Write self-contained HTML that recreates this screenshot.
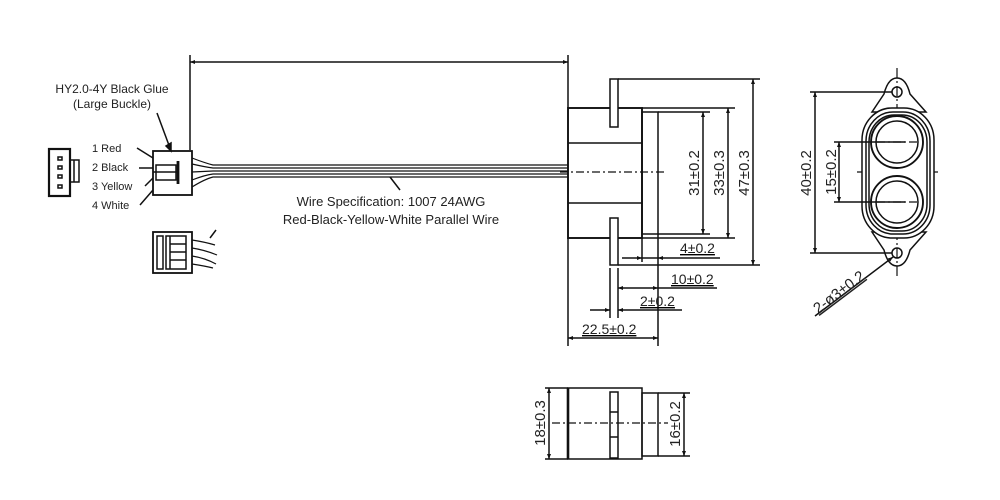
<!DOCTYPE html>
<html><head><style>
html,body{margin:0;padding:0;background:#fff;}
svg{display:block;}
text{font-family:"Liberation Sans",sans-serif;fill:#222;}
</style></head><body>
<svg width="1000" height="500" viewBox="0 0 1000 500" xmlns="http://www.w3.org/2000/svg">
<defs>
<marker id="a" viewBox="0 0 10 10" refX="10" refY="5" markerWidth="8" markerHeight="5" orient="auto-start-reverse" markerUnits="userSpaceOnUse"><path d="M0,1 L10,5 L0,9 z" fill="#111"/></marker>
</defs>
<g stroke="#111" fill="none" stroke-width="1.5">
<line x1="190" y1="62" x2="568" y2="62" marker-start="url(#a)" marker-end="url(#a)"/>
<line x1="190" y1="55" x2="190" y2="150"/>
<line x1="568" y1="55" x2="568" y2="108"/>
<rect x="49" y="149" width="21" height="47" stroke-width="2.2"/>
<rect x="70" y="160" width="9" height="22"/>
<line x1="74" y1="160" x2="74" y2="182"/>
<rect x="58" y="157" width="4" height="3"/><rect x="58" y="166" width="4" height="3"/><rect x="58" y="175" width="4" height="3"/><rect x="58" y="185" width="4" height="3"/>
<rect x="153" y="151" width="39" height="44" stroke-width="1.8"/>
<rect x="156" y="165" width="20" height="15"/>
<line x1="178" y1="161" x2="178" y2="184" stroke-width="2.8"/>
<line x1="153" y1="172" x2="178" y2="172"/>
<line x1="137" y1="148" x2="153" y2="158"/>
<line x1="139" y1="168" x2="153" y2="168"/>
<line x1="145" y1="186" x2="153" y2="178"/>
<line x1="140" y1="205" x2="153" y2="190"/>
<line x1="157" y1="113" x2="170" y2="148"/>
<path d="M166,146 L171,151 L171,143 z" fill="#111"/>
<g stroke-width="1.2">
<path d="M192,158 Q205,163 213,165 L568,165"/>
<path d="M192,164 Q205,167 213,168 L568,168"/>
<path d="M192,172 L213,171 L568,171"/>
<path d="M192,180 Q205,175 213,174 L568,174"/>
<path d="M192,187 Q205,179 213,177 L568,177"/>
</g>
<line x1="390" y1="177" x2="400" y2="190"/>
<rect x="153" y="232" width="39" height="41" stroke-width="1.8"/>
<rect x="157" y="236" width="6" height="33"/>
<rect x="166" y="236" width="20" height="33"/>
<line x1="170" y1="244" x2="186" y2="244"/><line x1="170" y1="252" x2="186" y2="252"/><line x1="170" y1="260" x2="186" y2="260"/>
<line x1="170" y1="236" x2="170" y2="269"/>
<path d="M192,240 Q205,242 215,245 M192,248 Q205,250 217,255 M192,256 Q205,258 216,264 M192,264 Q205,266 213,268" stroke-width="1.2"/>
<line x1="210" y1="238" x2="216" y2="230"/>
<rect x="568" y="108" width="74" height="130" stroke-width="1.9"/>
<line x1="568" y1="143" x2="642" y2="143"/>
<line x1="568" y1="203" x2="642" y2="203"/>
<rect x="642" y="112" width="16" height="122"/>
<rect x="610" y="79" width="8" height="48" fill="#fff"/>
<rect x="610" y="218" width="8" height="47" fill="#fff"/>
<line x1="560" y1="172" x2="667" y2="172" stroke-dasharray="8,3,2,3" stroke-width="1.2"/>
<line x1="618" y1="79" x2="760" y2="79"/>
<line x1="618" y1="265" x2="760" y2="265"/>
<line x1="642" y1="108" x2="735" y2="108"/>
<line x1="642" y1="238" x2="735" y2="238"/>
<line x1="658" y1="112" x2="710" y2="112"/>
<line x1="658" y1="234" x2="710" y2="234"/>
<line x1="753" y1="79" x2="753" y2="265" marker-start="url(#a)" marker-end="url(#a)"/>
<line x1="728" y1="108" x2="728" y2="238" marker-start="url(#a)" marker-end="url(#a)"/>
<line x1="703" y1="112" x2="703" y2="234" marker-start="url(#a)" marker-end="url(#a)"/>
<line x1="568" y1="238" x2="568" y2="346"/>
<line x1="658" y1="234" x2="658" y2="346"/>
<line x1="642" y1="238" x2="642" y2="262"/>
<line x1="610" y1="268" x2="610" y2="318"/>
<line x1="618" y1="268" x2="618" y2="318"/>
<line x1="622" y1="258" x2="642" y2="258" marker-end="url(#a)"/>
<line x1="642" y1="258" x2="658" y2="258"/>
<line x1="658" y1="258" x2="720" y2="258" marker-start="url(#a)"/>
<line x1="618" y1="288" x2="658" y2="288" marker-start="url(#a)" marker-end="url(#a)"/>
<line x1="658" y1="288" x2="717" y2="288"/>
<line x1="590" y1="310" x2="610" y2="310" marker-end="url(#a)"/>
<line x1="618" y1="310" x2="682" y2="310" marker-start="url(#a)"/>
<line x1="568" y1="338" x2="658" y2="338" marker-start="url(#a)" marker-end="url(#a)"/>
<line x1="897" y1="68" x2="897" y2="278" stroke-dasharray="10,3,2,3" stroke-width="1.2"/>
<line x1="857" y1="172" x2="938" y2="172" stroke-dasharray="10,3,2,3" stroke-width="1.2"/>
<path d="M884,94 Q888,78 897,78 Q906,78 910,94 L926,112 L872,112 z M884,250 Q888,266 897,266 Q906,266 910,250 L926,232 L872,232 z"/>
<rect x="862" y="108" width="72" height="130" rx="30" ry="32" fill="#fff"/>
<rect x="866" y="112" width="64" height="122" rx="27" ry="29"/>
<rect x="869" y="115" width="58" height="116" rx="25" ry="27"/>
<circle cx="897" cy="92" r="5"/>
<circle cx="897" cy="253" r="5"/>
<circle cx="897" cy="142" r="26" stroke-width="1.9"/>
<circle cx="897" cy="142" r="21"/>
<circle cx="897" cy="202" r="26" stroke-width="1.9"/>
<circle cx="897" cy="202" r="21"/>
<line x1="877" y1="142" x2="917" y2="142" stroke-dasharray="8,3,2,3" stroke-width="1.2"/>
<line x1="877" y1="202" x2="917" y2="202" stroke-dasharray="8,3,2,3" stroke-width="1.2"/>
<line x1="810" y1="92" x2="892" y2="92"/>
<line x1="810" y1="253" x2="892" y2="253"/>
<line x1="815" y1="92" x2="815" y2="253" marker-start="url(#a)" marker-end="url(#a)"/>
<line x1="834" y1="142" x2="905" y2="142"/>
<line x1="834" y1="202" x2="905" y2="202"/>
<line x1="839" y1="142" x2="839" y2="202" marker-start="url(#a)" marker-end="url(#a)"/>
<line x1="815" y1="316" x2="893" y2="257" marker-end="url(#a)"/>
<rect x="568" y="388" width="74" height="71"/>
<line x1="568" y1="388" x2="568" y2="459" stroke-width="2.6"/>
<rect x="642" y="393" width="16" height="63"/>
<rect x="610" y="392" width="8" height="66"/>
<line x1="610" y1="412" x2="618" y2="412"/><line x1="610" y1="437" x2="618" y2="437"/>
<line x1="552" y1="423" x2="668" y2="423" stroke-dasharray="8,3,2,3" stroke-width="1.2"/>
<line x1="545" y1="388" x2="568" y2="388"/>
<line x1="545" y1="459" x2="568" y2="459"/>
<line x1="549" y1="388" x2="549" y2="459" marker-start="url(#a)" marker-end="url(#a)"/>
<line x1="658" y1="393" x2="690" y2="393"/>
<line x1="658" y1="456" x2="690" y2="456"/>
<line x1="684" y1="393" x2="684" y2="456" marker-start="url(#a)" marker-end="url(#a)"/>
</g>
<g font-size="12">
<text x="112" y="93" text-anchor="middle">HY2.0-4Y Black Glue</text>
<text x="112" y="108" text-anchor="middle">(Large Buckle)</text>
</g>
<g font-size="11">
<text x="92" y="152">1 Red</text>
<text x="92" y="171">2 Black</text>
<text x="92" y="190">3 Yellow</text>
<text x="92" y="209">4 White</text>
</g>
<g font-size="13" text-anchor="middle">
<text x="391" y="206">Wire Specification: 1007 24AWG</text>
<text x="391" y="224">Red-Black-Yellow-White Parallel Wire</text>
</g>
<g font-size="14" text-decoration="underline">
<text x="680" y="253">4±0.2</text>
<text x="671" y="284">10±0.2</text>
<text x="640" y="306">2±0.2</text>
<text x="582" y="334">22.5±0.2</text>
</g>
<g font-size="15">
<text transform="translate(699,173) rotate(-90)" text-anchor="middle">31±0.2</text>
<text transform="translate(724,173) rotate(-90)" text-anchor="middle">33±0.3</text>
<text transform="translate(749,173) rotate(-90)" text-anchor="middle">47±0.3</text>
<text transform="translate(811,173) rotate(-90)" text-anchor="middle">40±0.2</text>
<text transform="translate(836,172) rotate(-90)" text-anchor="middle">15±0.2</text>
<text transform="translate(545,423) rotate(-90)" text-anchor="middle">18±0.3</text>
<text transform="translate(680,424) rotate(-90)" text-anchor="middle">16±0.2</text>
<text transform="translate(818,314) rotate(-37)" text-decoration="underline">2-ø3±0.2</text>
</g>
</svg>
</body></html>
